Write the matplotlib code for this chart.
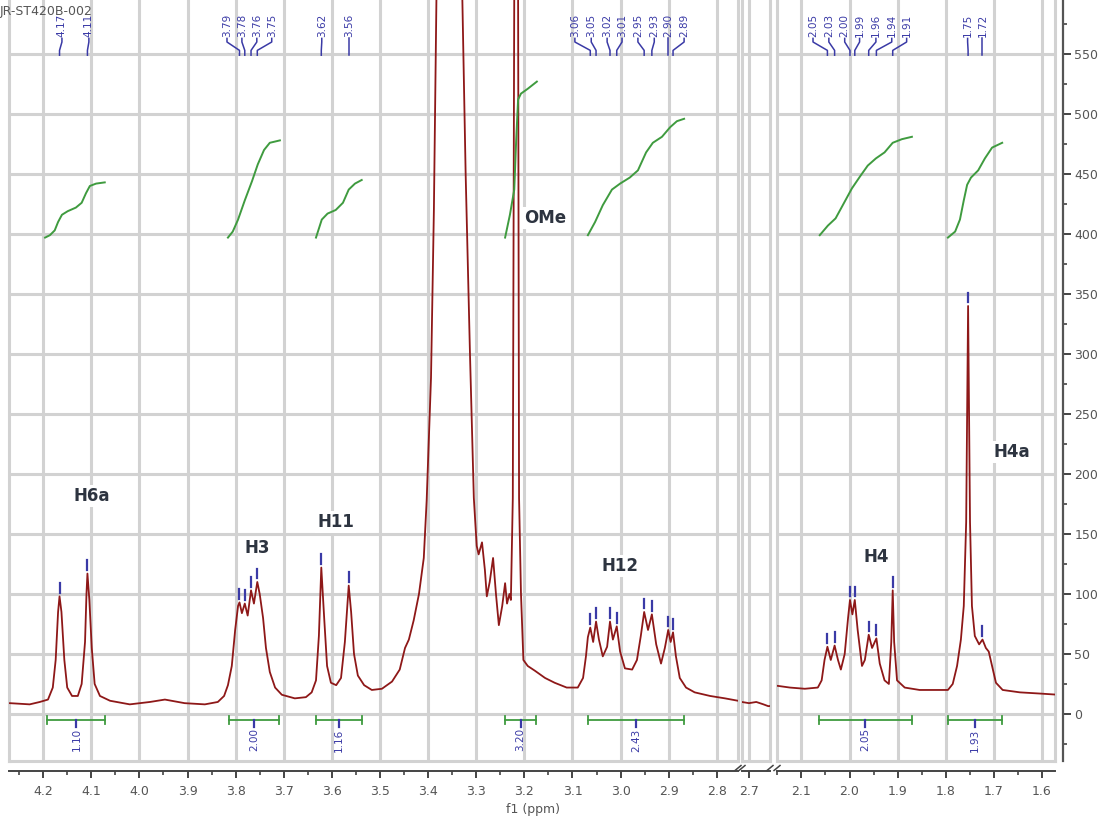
import matplotlib
matplotlib.use("Agg")
import matplotlib.pyplot as plt
from matplotlib.ticker import MultipleLocator, FormatStrFormatter
from matplotlib.lines import Line2D

# ---- spectrum trace (ppm, intensity) ----
spec_ppm = [4.269, 4.228, 4.207, 4.190, 4.180, 4.174, 4.169, 4.166, 4.162, 4.156, 4.150, 4.140, 4.128,
            4.120, 4.113, 4.110, 4.108, 4.104, 4.099, 4.093, 4.082, 4.061, 4.020, 3.978, 3.947,
            3.906, 3.864, 3.837, 3.824, 3.816, 3.808, 3.801, 3.795, 3.792, 3.787, 3.781, 3.775,
            3.768, 3.762, 3.755, 3.750, 3.743, 3.737, 3.729, 3.718, 3.704, 3.677, 3.654, 3.642,
            3.633, 3.627, 3.622, 3.616, 3.610, 3.602, 3.591, 3.581, 3.573, 3.565, 3.560, 3.554,
            3.546, 3.533, 3.517, 3.496, 3.475, 3.459, 3.448, 3.440, 3.430, 3.419, 3.409, 3.403,
            3.394, 3.388, 3.382, 3.355, 3.330, 3.322, 3.313, 3.305, 3.299, 3.295, 3.288, 3.282,
            3.278, 3.272, 3.265, 3.259, 3.253, 3.246, 3.240, 3.236, 3.231, 3.228, 3.224, 3.221,
            3.217, 3.213, 3.211, 3.207, 3.202, 3.193, 3.178, 3.157, 3.137, 3.112, 3.089, 3.078,
            3.072, 3.068, 3.063, 3.057, 3.051, 3.045, 3.037, 3.028, 3.022, 3.016, 3.008, 3.001,
            2.991, 2.976, 2.966, 2.958, 2.951, 2.943, 2.935, 2.926, 2.916, 2.908, 2.901, 2.896,
            2.891, 2.885, 2.877, 2.864, 2.846, 2.814, 2.783, 2.756,
            2.715, 2.700, 2.685, 2.670, 2.660,
            2.160, 2.124, 2.093, 2.066, 2.058, 2.052, 2.046, 2.039, 2.031, 2.024, 2.018, 2.010,
            2.003, 1.999, 1.994, 1.989, 1.983, 1.974, 1.968, 1.960, 1.953, 1.944, 1.937, 1.927,
            1.918, 1.913, 1.910, 1.907, 1.901, 1.885, 1.854, 1.822, 1.795, 1.785, 1.776, 1.768,
            1.762, 1.757, 1.753, 1.749, 1.745, 1.739, 1.730, 1.723, 1.716, 1.710, 1.703, 1.695,
            1.681, 1.645, 1.603, 1.565]
spec_int = [9, 8, 10, 12, 22, 45, 85, 98, 85, 45, 22, 15, 15,
            25, 60, 100, 117, 95, 55, 25, 15, 11, 8, 10, 12,
            9, 8, 10, 15, 24, 40, 70, 90, 93, 84, 92, 82,
            103, 92, 110, 100, 80, 55, 35, 22, 16, 13, 14, 18,
            28, 65, 122, 80, 40, 26, 24, 30, 60, 107, 85, 50,
            32, 24, 20, 21, 27, 37, 55, 62, 78, 100, 130, 178,
            280, 420, 620, 1500, 620, 450, 300, 180, 140, 133, 143, 120,
            98, 110, 130, 100, 74, 90, 109, 92, 100, 95, 180, 600,
            3000, 600, 180, 100, 45, 40, 36, 30, 26, 22, 22, 30,
            48, 64, 72, 60, 77, 62, 48, 56, 77, 62, 73, 52,
            38, 37, 45, 65, 85, 70, 83, 58, 42, 55, 70, 60,
            68, 48, 30, 22, 18, 15, 13, 11,
            10, 9, 10, 8, 6.5,
            24, 22, 21, 22, 28, 45, 56, 45, 57, 45, 37, 50,
            80, 95, 83, 95, 70, 40, 45, 66, 55, 63, 42, 28,
            25, 60, 103, 60, 28, 22, 20, 20, 20, 25, 40, 62,
            90, 160, 340, 160, 90, 65, 58, 62, 55, 52, 40, 26,
            20, 18, 17, 16]

# ---- picked peaks ----
peak_ppm = [4.166, 4.108, 3.792, 3.781, 3.768, 3.755, 3.622, 3.565, 3.063, 3.051, 3.022, 3.008,
            2.951, 2.935, 2.901, 2.891, 2.046, 2.031, 1.999, 1.989, 1.960, 1.944, 1.910, 1.753, 1.723]
peak_height = [98, 117, 93, 92, 103, 110, 122, 107, 72, 77, 77, 73,
               85, 83, 70, 68, 56, 57, 95, 95, 66, 63, 103, 340, 62]
peak_labels = ['4.17', '4.11', '3.79', '3.78', '3.76', '3.75', '3.62', '3.56', '3.06', '3.05', '3.02', '3.01',
               '2.95', '2.93', '2.90', '2.89', '2.05', '2.03', '2.00', '1.99', '1.96', '1.94', '1.91', '1.75', '1.72']
label_ppm = [4.161, 4.105, 3.818, 3.787, 3.756, 3.725, 3.621, 3.565, 3.095, 3.061, 3.028, 2.997,
             2.964, 2.930, 2.901, 2.868, 2.076, 2.043, 2.010, 1.979, 1.945, 1.912, 1.881, 1.754, 1.723]

# ---- integrals ----
int_left = [4.191, 3.813, 3.633, 3.240, 3.068, 2.064, 1.795]
int_right = [4.071, 3.710, 3.538, 3.176, 2.868, 1.870, 1.683]
int_values = ['1.10', '2.00', '1.16', '3.20', '2.43', '2.05', '1.93']

curve_ppm = [
    [4.196, 4.186, 4.176, 4.169, 4.161, 4.149, 4.132, 4.120, 4.111, 4.103, 4.090, 4.072],
    [3.816, 3.806, 3.795, 3.781, 3.766, 3.754, 3.741, 3.729, 3.708],
    [3.633, 3.621, 3.609, 3.592, 3.577, 3.565, 3.552, 3.538],
    [3.240, 3.230, 3.221, 3.217, 3.213, 3.207, 3.193, 3.174],
    [3.068, 3.053, 3.037, 3.018, 3.001, 2.981, 2.964, 2.947, 2.933, 2.914, 2.897, 2.883, 2.868],
    [2.062, 2.045, 2.029, 2.014, 1.995, 1.978, 1.962, 1.945, 1.927, 1.910, 1.891, 1.870],
    [1.795, 1.780, 1.770, 1.762, 1.755, 1.747, 1.732, 1.718, 1.703, 1.682],
]
curve_val = [
    [397, 399, 403, 410, 416, 419, 422, 426, 434, 440, 442, 443],
    [397, 402, 412, 428, 444, 458, 470, 476, 478],
    [397, 412, 417, 420, 426, 437, 442, 445],
    [397, 416, 437, 478, 512, 517, 521, 527],
    [399, 410, 424, 437, 442, 447, 453, 468, 476, 481, 489, 494, 496],
    [399, 407, 413, 424, 438, 448, 457, 463, 468, 476, 479, 481],
    [397, 402, 412, 428, 441, 447, 453, 463, 472, 476],
]

# ---- assignments ----
names = ['H6a', 'H3', 'H11', 'OMe', 'H12', 'H4', 'H4a']
name_ppm = [4.099, 3.756, 3.592, 3.157, 3.001, 1.945, 1.662]
name_val = [182, 138, 160, 413, 123, 131, 218]

W, H = 1104, 818
RED = '#8e1818'
GREEN = '#3f9b3f'
BLUE = '#3a3aa6'
GRID = '#d2d2d2'
TXT = '#555555'
YMIN, YMAX = -39.2, 595

fig = plt.figure(figsize=(W / 100, H / 100), dpi=100)
ax1 = fig.add_axes([9 / W, (H - 761) / H, 729 / W, 761 / H])
ax2 = fig.add_axes([742 / W, (H - 761) / H, 28 / W, 761 / H])
ax3 = fig.add_axes([777 / W, (H - 761) / H, 278 / W, 761 / H])
axes = [ax1, ax2, ax3]
ax1.set_xlim(4.271, 2.756)
ax2.set_xlim(2.7146, 2.6564)
ax3.set_xlim(2.151, 1.572)


def pick(p):
    for a in axes:
        lo, hi = sorted(a.get_xlim())
        if lo <= p <= hi:
            return a
    return ax3


for a in axes:
    a.set_ylim(YMIN, YMAX)
    a.set_axisbelow(True)
    a.xaxis.set_major_locator(MultipleLocator(0.1))
    a.xaxis.set_minor_locator(MultipleLocator(0.05))
    a.xaxis.set_major_formatter(FormatStrFormatter('%.1f'))
    a.yaxis.set_major_locator(MultipleLocator(50))
    a.yaxis.set_minor_locator(MultipleLocator(25))
    a.grid(True, which='major', color=GRID, lw=2.2)
    a.spines['top'].set_visible(False)
    for s in ['left', 'right']:
        a.spines[s].set_color(GRID)
        a.spines[s].set_linewidth(2.2)
    a.spines['bottom'].set_position(('outward', 7))
    a.spines['bottom'].set_color('#444444')
    a.spines['bottom'].set_linewidth(1.4)
    a.axhline(YMIN, color=GRID, lw=2.2, clip_on=False, zorder=0.5)
    a.tick_params(axis='x', which='major', direction='out', length=5, width=1.4,
                  color='#444444', labelcolor=TXT, labelsize=9, pad=5)
    a.tick_params(axis='x', which='minor', direction='out', length=3, width=1.2, color='#444444')
    a.tick_params(axis='y', which='both', left=False, right=False, labelleft=False, labelright=False)

    a.plot(spec_ppm, spec_int, color=RED, lw=1.3, zorder=3)
    for cp, cv in zip(curve_ppm, curve_val):
        a.plot(cp, cv, color=GREEN, lw=1.4, zorder=3)

# right axis on the last panel
ax3.axvline(1.572, color=GRID, lw=2.2, clip_on=False, zorder=0.5)
ax3.spines['right'].set_color('#555555')
ax3.spines['right'].set_linewidth(1.6)
ax3.spines['right'].set_position(('outward', 6))
ax3.tick_params(axis='y', which='major', right=True, labelright=True, direction='out', length=6,
                width=1.4, color='#444444', labelcolor=TXT, labelsize=9, pad=2)
ax3.tick_params(axis='y', which='minor', right=True, direction='out', length=3, width=1.2, color='#444444')
ax3.set_yticks(range(0, 551, 50))

# peak picking marks and labels
for p, h, lab, lp in zip(peak_ppm, peak_height, peak_labels, label_ppm):
    a = pick(p)
    a.plot([p, p], [h + 3, h + 11], color=BLUE, lw=1.6, zorder=4)
    a.plot([lp, lp, p, p], [563, 560, 553, 549], color=BLUE, lw=1.1, zorder=4, clip_on=False)
    a.text(lp, 564, lab, rotation=90, ha='center', va='bottom', fontsize=7.5, color=BLUE, zorder=5)

# integration bars
for l, r, v in zip(int_left, int_right, int_values):
    a = pick((l + r) / 2)
    m = (l + r) / 2
    a.plot([l, r], [-5, -5], color=GREEN, lw=1.3, zorder=4)
    a.plot([l, l], [-8.5, -1.5], color=GREEN, lw=1.3, zorder=4)
    a.plot([r, r], [-8.5, -1.5], color=GREEN, lw=1.3, zorder=4)
    a.plot([m, m], [-5, -11], color=BLUE, lw=1.6, zorder=4)
    a.text(m, -12, v, rotation=90, ha='center', va='top', fontsize=7.5, color=BLUE, zorder=5)

# assignment labels
for n, p, v in zip(names, name_ppm, name_val):
    a = pick(p)
    a.text(p, v, n, ha='center', va='center', fontsize=12, fontweight='bold', color='#2d3440', zorder=6,
           bbox=dict(facecolor='white', edgecolor='none', pad=1.5))

# axis break marks on the x axis line
yb = 1 - 768 / H
for px in [738, 742, 770, 777]:
    fig.add_artist(Line2D([(px - 3) / W, (px + 3) / W], [yb - 2.5 / H, yb + 2.5 / H],
                          color='#444444', lw=1.1))

fig.text(533 / W, 1 - 809 / H, 'f1 (ppm)', ha='center', va='center', fontsize=9, color=TXT)
fig.text(0.0, 1 - 12 / H, 'JR-ST420B-002', ha='left', va='center', fontsize=9, color=TXT)

fig.savefig('out.png', dpi=100)
